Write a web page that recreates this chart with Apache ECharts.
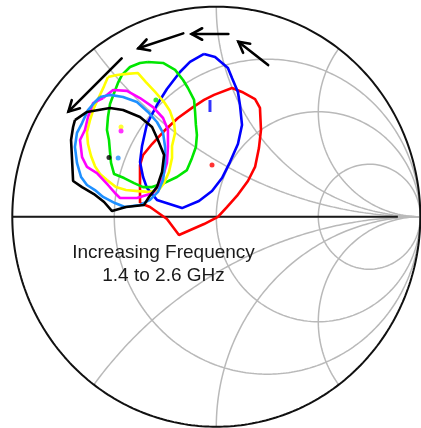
<!DOCTYPE html>
<html><head><meta charset="utf-8">
<script src="https://cdn.jsdelivr.net/npm/echarts@6/dist/echarts.min.js"></script>
<style>html,body{margin:0;padding:0;background:#fff}#c{width:421px;height:428px}</style>
</head><body><div id="c"></div>
<script>
// Smith chart grid values (normalized impedance)
const resistanceCircles = [1/3, 1, 3];
const reactanceArcs = [0.5, 1, 2, -0.5, -1, -2];

// Contours, read as reflection coefficient [Re Γ, Im Γ]; frequency 1.4 → 2.6 GHz
const contourRed = [[-0.374,0.065],[-0.374,0.175],[-0.374,0.246],[-0.359,0.294],[-0.315,0.346],[-0.256,0.408],[-0.188,0.470],[-0.114,0.522],[-0.060,0.556],[-0.011,0.580],[0.077,0.613],[0.126,0.594],[0.190,0.560],[0.214,0.518],[0.219,0.413],[0.209,0.327],[0.190,0.237],[0.155,0.170],[0.101,0.099],[0.052,0.046],[0.008,-0.001],[-0.060,-0.035],[-0.183,-0.087],[-0.242,-0.011],[-0.325,0.046]];
const contourBlue = [[-0.060,0.775],[-0.129,0.737],[-0.178,0.689],[-0.242,0.608],[-0.291,0.532],[-0.340,0.441],[-0.364,0.337],[-0.374,0.260],[-0.359,0.189],[-0.340,0.137],[-0.291,0.080],[-0.168,0.041],[-0.085,0.075],[-0.021,0.122],[0.028,0.184],[0.067,0.260],[0.106,0.346],[0.126,0.437],[0.116,0.532],[0.106,0.594],[0.077,0.660],[0.057,0.708],[-0.006,0.760]];
const contourGreen = [[-0.335,0.737],[-0.261,0.732],[-0.202,0.699],[-0.163,0.651],[-0.139,0.613],[-0.109,0.556],[-0.104,0.499],[-0.100,0.437],[-0.095,0.389],[-0.100,0.332],[-0.119,0.280],[-0.144,0.222],[-0.193,0.189],[-0.256,0.160],[-0.315,0.141],[-0.359,0.141],[-0.403,0.160],[-0.452,0.184],[-0.501,0.203],[-0.516,0.256],[-0.521,0.308],[-0.526,0.365],[-0.536,0.413],[-0.531,0.475],[-0.521,0.537],[-0.501,0.589],[-0.482,0.637],[-0.462,0.675],[-0.423,0.713],[-0.374,0.732]];
const contourYellow = [[-0.531,0.665],[-0.487,0.675],[-0.438,0.680],[-0.384,0.684],[-0.345,0.641],[-0.300,0.594],[-0.256,0.546],[-0.227,0.503],[-0.207,0.446],[-0.202,0.399],[-0.217,0.337],[-0.217,0.280],[-0.232,0.213],[-0.256,0.160],[-0.286,0.122],[-0.335,0.118],[-0.384,0.122],[-0.443,0.127],[-0.492,0.141],[-0.536,0.175],[-0.570,0.203],[-0.595,0.241],[-0.614,0.289],[-0.629,0.346],[-0.634,0.403],[-0.619,0.460],[-0.600,0.518],[-0.575,0.570],[-0.550,0.622]];
const contourMagenta = [[-0.555,0.565],[-0.506,0.603],[-0.438,0.599],[-0.374,0.565],[-0.310,0.522],[-0.261,0.470],[-0.237,0.413],[-0.237,0.332],[-0.242,0.256],[-0.266,0.175],[-0.310,0.113],[-0.389,0.089],[-0.472,0.089],[-0.497,0.113],[-0.531,0.151],[-0.585,0.208],[-0.634,0.237],[-0.658,0.284],[-0.668,0.365],[-0.644,0.413],[-0.629,0.475],[-0.604,0.541]];
const contourLightBlue = [[-0.570,0.570],[-0.521,0.580],[-0.457,0.570],[-0.389,0.546],[-0.335,0.499],[-0.291,0.451],[-0.261,0.399],[-0.251,0.332],[-0.251,0.256],[-0.261,0.175],[-0.286,0.118],[-0.325,0.080],[-0.374,0.056],[-0.448,0.046],[-0.497,0.065],[-0.555,0.094],[-0.595,0.127],[-0.634,0.151],[-0.663,0.189],[-0.683,0.256],[-0.693,0.332],[-0.683,0.399],[-0.658,0.446],[-0.629,0.508],[-0.595,0.546]];
const contourBlack = [[-0.693,0.460],[-0.634,0.499],[-0.521,0.518],[-0.457,0.508],[-0.374,0.475],[-0.315,0.427],[-0.286,0.365],[-0.256,0.294],[-0.266,0.213],[-0.291,0.141],[-0.330,0.094],[-0.354,0.056],[-0.443,0.046],[-0.511,0.027],[-0.550,0.070],[-0.600,0.108],[-0.658,0.141],[-0.702,0.170],[-0.707,0.270],[-0.712,0.365],[-0.702,0.427]];

// Optimum points (contour centres)
const centerRed = [[-0.021,0.246]];
const centerBlue = [[-0.031,0.527]];
const centerGreen = [[-0.296,0.556]];
const centerYellow = [[-0.467,0.427]];
const centerMagenta = [[-0.467,0.408]];
const centerLightBlue = [[-0.481,0.280]];
const centerBlack = [[-0.526,0.282]];

// Arrows: [tailRe, tailIm, headRe, headIm]
const arrows = [[0.254,0.722,0.108,0.833],[0.059,0.870,-0.121,0.870],[-0.162,0.873,-0.382,0.802],[-0.464,0.754,-0.725,0.500]];

const labelLines = ['Increasing Frequency', '1.4 to 2.6 GHz'];

// ---- build grid curves ----
function gammaOf(r, x) {
  const d = (r + 1) * (r + 1) + x * x;
  return [(r * r + x * x - 1) / d, (2 * x) / d];
}
function resistanceCurve(r) {
  const c = r / (1 + r), rad = 1 / (1 + r), pts = [];
  for (let a = 0; a <= 360; a += 1) {
    const t = a * Math.PI / 180;
    pts.push([c + rad * Math.cos(t), rad * Math.sin(t)]);
  }
  return pts;
}
function reactanceCurve(x) {
  const pts = [];
  for (let i = 0; i < 400; i++) {
    const t = i / 400;
    const r = Math.tan(t * Math.PI / 2);
    pts.push(gammaOf(r, x));
  }
  pts.push([1, 0]);
  return pts;
}
function unitCircle() {
  const pts = [];
  for (let a = 0; a <= 360; a += 1) {
    const t = a * Math.PI / 180;
    pts.push([Math.cos(t), Math.sin(t)]);
  }
  return pts;
}
function closed(p) { return p.concat([p[0]]); }

const gridColor = '#b9b9b9';
const series = [];
function lineSeries(data, color, width, z) {
  series.push({
    type: 'line', data: data, showSymbol: false, symbol: 'none', silent: true,
    animation: false, z: z || 2, clip: false,
    lineStyle: { color: color, width: width }
  });
}
resistanceCircles.forEach(r => lineSeries(resistanceCurve(r), gridColor, 1.5, 1));
reactanceArcs.forEach(x => lineSeries(reactanceCurve(x), gridColor, 1.5, 1));
lineSeries([[-1, 0], [1, 0]], gridColor, 1.5, 1);
lineSeries([[-1, 0], [0.89, 0]], '#1a1a1a', 2, 2);
lineSeries(unitCircle(), '#111', 2, 2);

const contours = [
  [contourRed, '#ff0000', centerRed],
  [contourBlue, '#0000ff', centerBlue],
  [contourGreen, '#00e600', centerGreen],
  [contourYellow, '#ffff00', centerYellow],
  [contourMagenta, '#ff00ff', centerMagenta],
  [contourLightBlue, '#1e90ff', centerLightBlue],
  [contourBlack, '#000000', centerBlack]
];
contours.forEach((c, i) => {
  lineSeries(closed(c[0]), c[1], 2.6, 3 + i);
  series.push({
    type: 'scatter', data: c[2], silent: true, animation: false, z: 10,
    symbol: c[1] === '#0000ff' ? 'rect' : 'circle',
    symbolSize: c[1] === '#0000ff' ? [3, 12] : 5,
    itemStyle: { color: c[1] }
  });
});

series.push({
  type: 'custom', data: arrows, silent: true, animation: false, z: 20,
  encode: { x: [0, 2], y: [1, 3] },
  renderItem: function (params, api) {
    const p1 = api.coord([api.value(0), api.value(1)]);
    const p2 = api.coord([api.value(2), api.value(3)]);
    const ang = Math.atan2(p1[1] - p2[1], p1[0] - p2[0]);
    const L = 12, spread = 0.5;
    const h1 = [p2[0] + L * Math.cos(ang + spread), p2[1] + L * Math.sin(ang + spread)];
    const h2 = [p2[0] + L * Math.cos(ang - spread), p2[1] + L * Math.sin(ang - spread)];
    const st = { stroke: '#000', lineWidth: 2.6, fill: null, lineCap: 'round', lineJoin: 'miter' };
    return {
      type: 'group', children: [
        { type: 'polyline', shape: { points: [p1, p2] }, style: st },
        { type: 'polyline', shape: { points: [h1, p2, h2] }, style: st }
      ]
    };
  }
});

const chart = echarts.init(document.getElementById('c'), null, { renderer: 'canvas' });
chart.setOption({
  animation: false,
  backgroundColor: '#ffffff',
  grid: { left: 12.3, top: 6.7, width: 408, height: 420 },
  xAxis: { type: 'value', min: -1, max: 1, show: false },
  yAxis: { type: 'value', min: -1, max: 1, show: false },
  series: series,
  graphic: labelLines.map((t, i) => ({
    type: 'text', x: 163.5, y: 253 + i * 23, z: 30,
    style: { text: t, fill: '#1a1a1a', font: '19px "Liberation Sans", Arial, sans-serif', align: 'center', verticalAlign: 'middle' }
  }))
});
</script></body></html>
